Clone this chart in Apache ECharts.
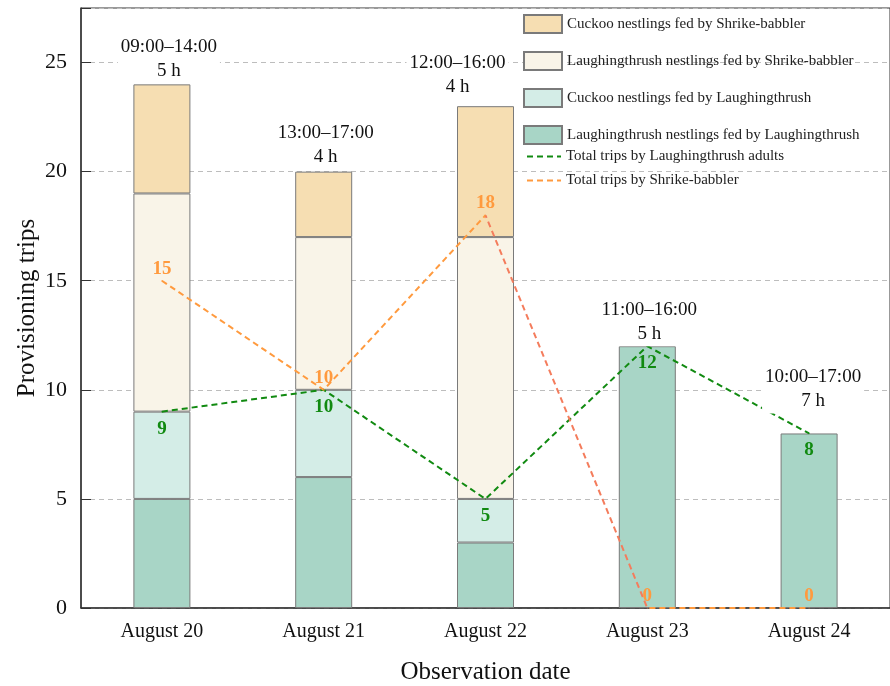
<!DOCTYPE html>
<html>
<head>
<meta charset="utf-8">
<script src="https://cdn.jsdelivr.net/npm/echarts@6/dist/echarts.min.js"></script>
<style>
  html, body { margin: 0; padding: 0; background: #fff; }
  #chart { width: 890px; height: 686px; }
</style>
</head>
<body>
<div id="chart"></div>
<script>
// data
var dates = ['August 20', 'August 21', 'August 22', 'August 23', 'August 24'];
var timeRanges = ['09:00\u201314:00', '13:00\u201317:00', '12:00\u201316:00', '11:00\u201316:00', '10:00\u201317:00'];
var durations = ['5 h', '4 h', '4 h', '5 h', '7 h'];

var laughByLaugh = [5, 6, 3, 12, 8];     // Laughingthrush nestlings fed by Laughingthrush
var cuckooByLaugh = [4, 4, 2, 0, 0];     // Cuckoo nestlings fed by Laughingthrush
var laughByShrike = [10, 7, 12, 0, 0];   // Laughingthrush nestlings fed by Shrike-babbler
var cuckooByShrike = [5, 3, 6, 0, 0];    // Cuckoo nestlings fed by Shrike-babbler

var totalLaughAdults = [9, 10, 5, 12, 8];
var totalShrike = [15, 10, 18, 0, 0];

var FONT = '"Liberation Serif", "Times New Roman", serif';

var totals = dates.map(function (d, i) {
    return laughByLaugh[i] + cuckooByLaugh[i] + laughByShrike[i] + cuckooByShrike[i];
});
// nudge of each time label [dx, dy] in px
var labelShift = [[7, -1], [2, -3], [-28, -7], [2, 0], [4, -20]];

var chart = echarts.init(document.getElementById('chart'));

function barSeries(name, arr, color) {
    return {
        name: name,
        type: 'bar',
        stack: 'trips',
        barWidth: 57,
        // empty segments are left out so no zero-height outline is drawn
        data: arr.map(function (v) { return v === 0 ? '-' : v; }),
        itemStyle: { color: color, borderColor: '#7a7a7a', borderWidth: 1 },
        z: 2
    };
}

var option = {
    animation: false,
    textStyle: { fontFamily: FONT },
    grid: {
        left: 81, right: 0, top: 8, bottom: 78,
        outerBoundsMode: 'none',
        show: true, borderColor: '#333', borderWidth: 1
    },
    legend: [
        {
            orient: 'vertical', left: 518, top: 9, z: 10,
            itemWidth: 38, itemHeight: 18, itemGap: 17,
            icon: 'rect',
            textStyle: { fontFamily: FONT, fontSize: 15, color: '#222' },
            data: ['Cuckoo nestlings fed by Shrike-babbler',
                   'Laughingthrush nestlings fed by Shrike-babbler',
                   'Cuckoo nestlings fed by Laughingthrush',
                   'Laughingthrush nestlings fed by Laughingthrush']
        },
        {
            orient: 'vertical', left: 521, top: 144, z: 10,
            itemWidth: 34, itemHeight: 18, itemGap: 9,
            itemStyle: { opacity: 0 },
            textStyle: { fontFamily: FONT, fontSize: 15, color: '#222' },
            data: ['Total trips by Laughingthrush adults', 'Total trips by Shrike-babbler']
        }
    ],
    visualMap: {
        show: false,
        type: 'piecewise',
        seriesIndex: 5,
        dimension: 0,
        pieces: [
            { lte: 2, color: '#ff9a3e' },
            { gt: 2, lte: 3, color: '#f47c5c' },
            { gt: 3, color: '#ff9a3e' }
        ]
    },
    xAxis: {
        type: 'category',
        data: dates,
        name: 'Observation date',
        nameLocation: 'middle',
        nameGap: 52,
        nameMoveOverlap: false,
        nameTextStyle: { fontFamily: FONT, fontSize: 25, color: '#111' },
        axisLine: { lineStyle: { color: '#333', width: 1.5 } },
        axisTick: { show: true, inside: true, length: 4, alignWithLabel: true, lineStyle: { color: '#333' } },
        axisLabel: { fontFamily: FONT, fontSize: 20, color: '#111', margin: 14 },
        splitLine: { show: false }
    },
    yAxis: {
        type: 'value',
        min: 0,
        max: 27.5,
        interval: 5,
        name: 'Provisioning trips',
        nameLocation: 'middle',
        nameGap: 41,
        nameMoveOverlap: false,
        nameTextStyle: { fontFamily: FONT, fontSize: 25, color: '#111' },
        axisLine: { show: true, lineStyle: { color: '#333', width: 1.5 } },
        axisTick: { show: true, inside: true, length: 10, lineStyle: { color: '#333' } },
        axisLabel: {
            fontFamily: FONT, fontSize: 22, color: '#111', margin: 14,
            formatter: function (v) { return v % 5 === 0 ? v : ''; }
        },
        splitLine: { lineStyle: { color: '#bdbdbd', type: [5, 4] } }
    },
    series: [
        barSeries('Laughingthrush nestlings fed by Laughingthrush', laughByLaugh, '#a8d5c6'),
        barSeries('Cuckoo nestlings fed by Laughingthrush', cuckooByLaugh, '#d4ede7'),
        barSeries('Laughingthrush nestlings fed by Shrike-babbler', laughByShrike, '#f9f4e8'),
        barSeries('Cuckoo nestlings fed by Shrike-babbler', cuckooByShrike, '#f6deb2'),
        {
            name: 'Total trips by Laughingthrush adults',
            type: 'line',
            data: totalLaughAdults,
            symbol: 'circle',
            symbolSize: 1,
            lineStyle: { color: '#118a11', width: 2, type: [6, 4] },
            itemStyle: { color: '#118a11' },
            label: {
                show: true, position: 'bottom', distance: 7,
                fontFamily: FONT, fontSize: 19, fontWeight: 'bold', color: '#118a11'
            },
            z: 5
        },
        {
            name: 'Total trips by Shrike-babbler',
            type: 'line',
            data: totalShrike,
            symbol: 'circle',
            symbolSize: 1,
            lineStyle: { width: 2, type: [6, 4] },
            itemStyle: { color: '#ff9a3e' },
            label: {
                show: true, position: 'top', distance: 2,
                fontFamily: FONT, fontSize: 19, fontWeight: 'bold', color: '#ff9a3e'
            },
            z: 5
        },
        {
            name: 'time',
            type: 'scatter',
            symbolSize: 0,
            silent: true,
            itemStyle: { opacity: 1 },
            data: totals.map(function (t, i) {
                return {
                    value: t,
                    label: { offset: labelShift[i] }
                };
            }),
            label: {
                show: true,
                position: 'top',
                distance: 0,
                fontFamily: FONT, fontSize: 19, color: '#111',
                lineHeight: 24,
                backgroundColor: '#fff',
                padding: [0, 3],
                formatter: function (p) {
                    return timeRanges[p.dataIndex] + '\n' + durations[p.dataIndex];
                }
            },
            z: 6
        }
    ]
};

chart.setOption(option);
window.addEventListener('resize', function () { chart.resize(); });
</script>
</body>
</html>
